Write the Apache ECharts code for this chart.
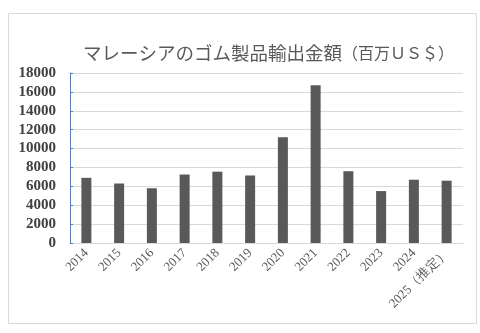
<!DOCTYPE html>
<html><head><meta charset="utf-8">
<script src="https://cdn.jsdelivr.net/npm/echarts@6/dist/echarts.min.js"></script>
<style>html,body{margin:0;padding:0;background:#fff}#c{width:480px;height:333px}</style>
</head><body><div id="c"></div>
<script>
const titleMain = 'マレーシアのゴム製品輸出金額';
const titleUnit = '（百万ＵＳ＄）';
const categories = ['2014','2015','2016','2017','2018','2019','2020','2021','2022','2023','2024','2025（推定）'];
const values = [6900, 6300, 5800, 7250, 7550, 7150, 11200, 16700, 7600, 5500, 6700, 6600];
const yTicks = [0, 2000, 4000, 6000, 8000, 10000, 12000, 14000, 16000, 18000];

const chart = echarts.init(document.getElementById('c'), null, {renderer:'canvas'});
chart.setOption({
  animation:false,
  backgroundColor:'#fff',
  graphic:[{type:'rect', shape:{x:8.5,y:13.5,width:468,height:310}, style:{fill:'none', stroke:'#d9d9d9', lineWidth:1}}],
  title:{
    text:'{a|'+titleMain+'}{b|'+titleUnit+'}',
    left:78, top:39,
    textStyle:{rich:{
      a:{fontFamily:'Noto Sans CJK JP', fontWeight:'normal', fontSize:18.5, color:'#595959'},
      b:{fontFamily:'Noto Sans CJK JP', fontWeight:'normal', fontSize:16, color:'#595959'}
    }}
  },
  grid:{left:70, right:17, top:73, bottom:90},
  xAxis:{
    type:'category', data:categories,
    axisLine:{lineStyle:{color:'#d9d9d9'}},
    axisTick:{show:false},
    axisLabel:{rotate:45, fontFamily:'Liberation Serif', fontSize:13, color:'#595959', margin:8, interval:0}
  },
  yAxis:{
    type:'value', min:yTicks[0], max:yTicks[yTicks.length-1], interval:2000,
    axisLine:{show:true, lineStyle:{color:'#5b7db5'}},
    axisTick:{show:true, inside:true, length:3, lineStyle:{color:'#5b7db5'}},
    splitLine:{lineStyle:{color:'#d9d9d9'}},
    axisLabel:{fontFamily:'Liberation Serif', fontWeight:'bold', fontSize:15, color:'#404040', margin:14,
      formatter: v => String(v)}
  },
  series:[{type:'bar', data:values, barWidth:10, itemStyle:{color:'#595959'}}]
});
</script></body></html>
